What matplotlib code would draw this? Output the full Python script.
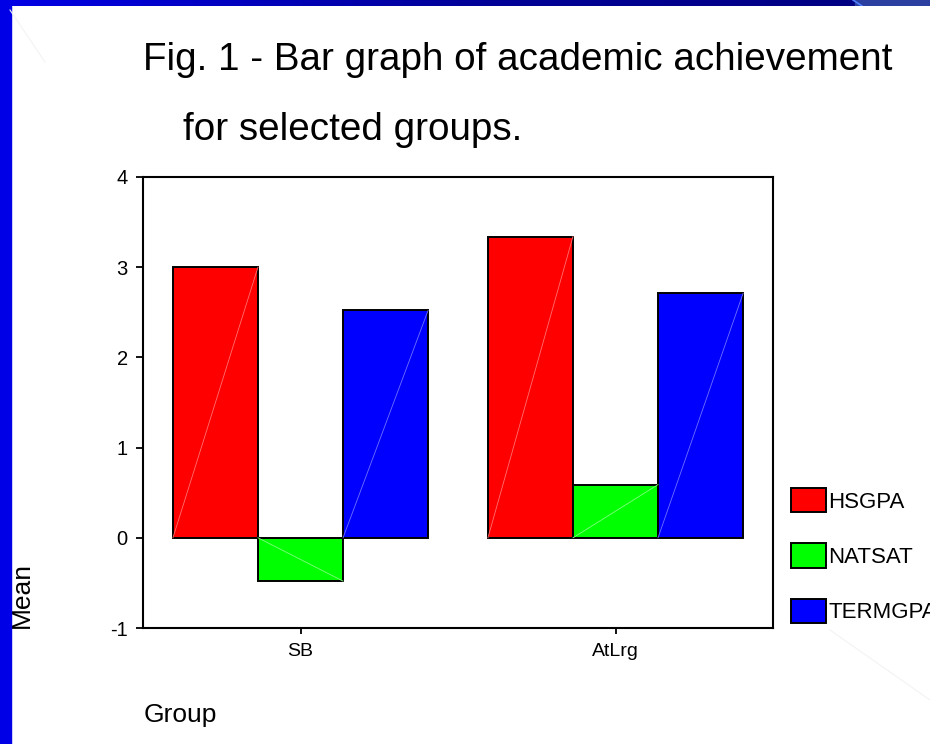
import numpy as np
import matplotlib
matplotlib.use("Agg")
import matplotlib.pyplot as plt
from matplotlib.patches import Rectangle
from matplotlib.colors import LinearSegmentedColormap

plt.rcParams["font.family"] = ["Liberation Sans", "DejaVu Sans"]
plt.rcParams["axes.unicode_minus"] = False

groups = ["SB", "AtLrg"]
series = ["HSGPA", "NATSAT", "TERMGPA"]
hsgpa = [3.00, 3.34]
natsat = [-0.48, 0.59]
termgpa = [2.52, 2.71]
colors = ["#ff0000", "#00ff00", "#0000ff"]
diag_colors = ["#ff7070", "#80ff80", "#7070ff"]

fig = plt.figure(figsize=(9.3, 7.44), dpi=100)

# slide decoration: blue strip on left, gradient bar on top
fig.patches.append(Rectangle((0, 0), 11 / 930, 1, transform=fig.transFigure,
                             color="#0000e6", zorder=0))
top = fig.add_axes([0, 1 - 6 / 744, 1, 6 / 744])
grad = np.linspace(0, 1, 256).reshape(1, -1)
cmap = LinearSegmentedColormap.from_list("bar", ["#0000e6", "#000099", "#00007f"])
top.imshow(grad, aspect="auto", cmap=cmap, extent=[0, 1, 0, 1])
top.add_patch(Rectangle((855 / 930, 0), 1, 1, color="#2a3fa0"))
top.plot([853 / 930, 862 / 930], [1, 0], color="#4f7fff", lw=1.2)
top.set_xlim(0, 1)
top.set_ylim(0, 1)
top.axis("off")

# faint decorative lines
fig.add_artist(plt.Line2D([10 / 930, 45 / 930], [1 - 10 / 744, 1 - 62 / 744],
                          transform=fig.transFigure, color="#f3f3f3", lw=0.8))
fig.add_artist(plt.Line2D([830 / 930, 930 / 930], [1 - 630 / 744, 1 - 700 / 744],
                          transform=fig.transFigure, color="#f3f3f3", lw=0.8))

ax = fig.add_axes([143 / 930, 116 / 744, 630 / 930, 451 / 744])
x = np.arange(len(groups))
w = 0.27
for i, (vals, c, dc) in enumerate(zip([hsgpa, natsat, termgpa], colors, diag_colors)):
    pos = x + (i - 1) * w
    ax.bar(pos, vals, width=w, color=c, edgecolor="black", linewidth=1.4,
           label=series[i], zorder=2)
    for p, v in zip(pos, vals):
        ax.plot([p - w / 2, p + w / 2], [0, v], color=dc, lw=0.6, zorder=3)

ax.set_xlim(-0.5, 1.5)
ax.set_ylim(-1, 4)
ax.set_yticks([-1, 0, 1, 2, 3, 4])
ax.set_xticks(x)
ax.set_xticklabels(groups)
for s in ax.spines.values():
    s.set_linewidth(1.5)
ax.tick_params(axis="y", length=5, width=1.3, labelsize=14.5, pad=6)
ax.tick_params(axis="x", length=4, width=1.3, labelsize=14, pad=7)

ax.set_ylabel("Mean", fontsize=19, ha="center", va="center")
ax.yaxis.set_label_coords(-0.192, 0.073)
ax.set_xlabel("Group", fontsize=19, ha="center", va="center")
ax.xaxis.set_label_coords(0.0587, -0.193)

leg = ax.legend(loc="upper left", bbox_to_anchor=(1.014, 0.33), frameon=False,
                fontsize=16, handlelength=1.6, handleheight=1.3,
                labelspacing=1.38, handletextpad=0.08, borderaxespad=0)

fig.text(143 / 930, 1 - 60 / 744, "Fig. 1 - Bar graph of academic achievement",
         fontsize=27.8, ha="left", va="center")
fig.text(183 / 930, 1 - 130 / 744, "for selected groups.",
         fontsize=27.8, ha="left", va="center")

fig.savefig("out.png", dpi=100)
